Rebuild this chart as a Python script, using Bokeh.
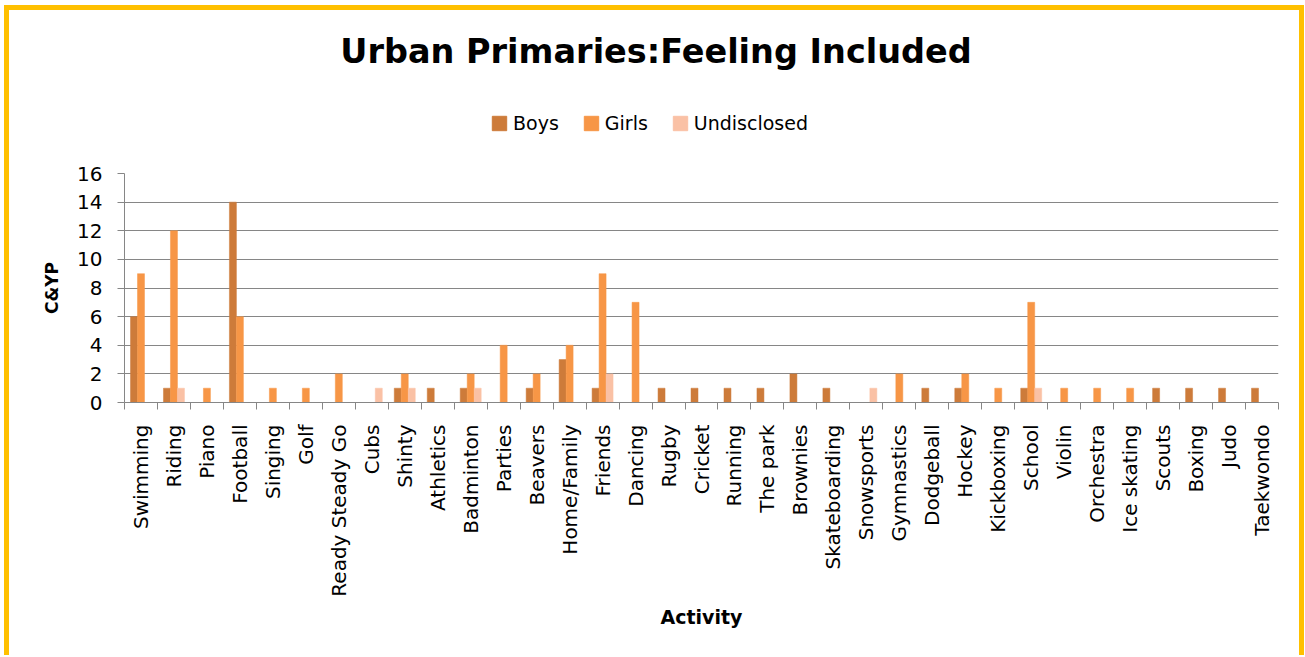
from bokeh.plotting import figure
from bokeh.layouts import column
from bokeh.models import (Range1d, FixedTicker, ColumnDataSource, Legend, LegendItem, Label)
from bokeh.transform import dodge
from bokeh.embed import file_html
from bokeh.resources import INLINE
import math

activities = ["Swimming", "Riding", "Piano", "Football", "Singing", "Golf", "Ready Steady Go",
              "Cubs", "Shinty", "Athletics", "Badminton", "Parties", "Beavers", "Home/Family",
              "Friends", "Dancing", "Rugby", "Cricket", "Running", "The park", "Brownies",
              "Skateboarding", "Snowsports", "Gymnastics", "Dodgeball", "Hockey", "Kickboxing",
              "School", "Violin", "Orchestra", "Ice skating", "Scouts", "Boxing", "Judo", "Taekwondo"]
boys        = [6, 1, 0, 14, 0, 0, 0, 0, 1, 1, 1, 0, 1, 3, 1, 0, 1, 1, 1, 1, 2, 1, 0, 0, 1, 1, 0, 1, 0, 0, 0, 1, 1, 1, 1]
girls       = [9, 12, 1, 6, 1, 1, 2, 0, 2, 0, 2, 4, 2, 4, 9, 7, 0, 0, 0, 0, 0, 0, 0, 2, 0, 2, 1, 7, 1, 1, 1, 0, 0, 0, 0]
undisclosed = [0, 1, 0, 0, 0, 0, 0, 1, 1, 0, 1, 0, 0, 0, 2, 0, 0, 0, 0, 0, 0, 0, 1, 0, 0, 0, 0, 1, 0, 0, 0, 0, 0, 0, 0]
y_ticks = [0, 2, 4, 6, 8, 10, 12, 14, 16]

series_names = ["Boys", "Girls", "Undisclosed"]
colors = ["#CD7B3A", "#F79646", "#FAC1A5"]
chart_title = "Urban Primaries:Feeling Included"

FONT = "DejaVu Sans"
GOLD = "#FFC000"
GRID = "#868686"

idx = list(range(len(activities)))
src = ColumnDataSource(dict(x=idx, name=activities, Boys=boys, Girls=girls, Undisclosed=undisclosed))

# ---------- header: title + legend (its frame is aligned with the chart's frame) ----------
h = figure(width=1300, height=150, output_backend="svg", toolbar_location=None,
           x_range=Range1d(-0.5, len(activities) - 0.5), y_range=Range1d(1000, 1150),
           min_border_left=0, min_border_right=0, min_border_top=0, min_border_bottom=0)
h.axis.visible = False
h.grid.visible = False
h.outline_line_color = None
h.border_fill_color = "white"
h.styles = {"border-style": "solid", "border-color": GOLD, "border-width": "5px 5px 0px 5px",
            "overflow": "hidden"}

h.add_layout(Label(x=531.5, y=109, x_units="screen", y_units="screen", text=chart_title,
                   text_font=FONT, text_font_style="bold", text_font_size="33.5px",
                   text_align="center", text_baseline="middle", text_color="black"))

# legend swatches: same series, drawn below this header's visible range
swatches = [h.vbar(x="x", top=s, width=0.2, source=src, fill_color=c, line_color=c)
            for s, c in zip(series_names, colors)]
legend = Legend(items=[LegendItem(label=n, renderers=[r]) for n, r in zip(series_names, swatches)],
                orientation="horizontal", location=(366, 26), padding=0, margin=0,
                border_line_alpha=0, background_fill_alpha=0,
                glyph_width=18, glyph_height=18, label_standoff=5, spacing=23,
                label_text_font=FONT, label_text_font_size="19px", label_text_color="black")
h.add_layout(legend, "center")

# ---------- main chart ----------
p = figure(width=1300, height=500, output_backend="svg", toolbar_location=None,
           x_range=Range1d(-0.5, len(activities) - 0.5), y_range=Range1d(0, 16),
           min_border_left=115, min_border_right=31, min_border_top=18, min_border_bottom=253)
p.styles = {"border-style": "solid", "border-color": GOLD, "border-width": "0px 5px 0px 5px",
            "overflow": "hidden"}
p.outline_line_color = None
p.background_fill_color = "white"
p.border_fill_color = "white"

bw = 0.212
for off, s, c in zip([-bw, 0, bw], series_names, colors):
    p.vbar(x=dodge("x", off), top=s, width=bw, source=src, fill_color=c, line_color=c, line_width=0.5)

xa = p.xaxis[0]
xa.ticker = FixedTicker(ticks=idx, minor_ticks=[i - 0.5 for i in range(len(activities) + 1)])
xa.major_label_overrides = {i: n for i, n in zip(idx, activities)}
xa.major_label_orientation = math.pi / 2
xa.major_tick_out = 0
xa.major_tick_in = 0
xa.minor_tick_out = 7
xa.minor_tick_in = 0
xa.minor_tick_line_color = GRID
xa.axis_line_color = GRID
xa.major_label_text_font = FONT
xa.major_label_text_font_size = "20px"
xa.major_label_text_color = "black"
xa.major_label_standoff = 15
xa.axis_label = "Activity"
xa.axis_label_text_font = FONT
xa.axis_label_text_font_style = "bold"
xa.axis_label_text_font_size = "19px"
xa.axis_label_text_color = "black"
xa.axis_label_standoff = 6

ya = p.yaxis[0]
ya.ticker = FixedTicker(ticks=y_ticks, minor_ticks=[])
ya.major_tick_out = 7
ya.major_tick_in = 0
ya.major_tick_line_color = GRID
ya.axis_line_color = GRID
ya.major_label_text_font = FONT
ya.major_label_text_font_size = "20px"
ya.major_label_text_color = "black"
ya.major_label_standoff = 15
ya.axis_label = "C&YP"
ya.axis_label_text_font = FONT
ya.axis_label_text_font_style = "bold"
ya.axis_label_text_font_size = "17px"
ya.axis_label_text_color = "black"
ya.axis_label_standoff = 12

p.xgrid.grid_line_color = None
p.ygrid.grid_line_color = GRID
p.ygrid.grid_line_width = 1

layout = column(h, p, spacing=0, styles={"margin": "5px 0px 0px 4px"})

open("out.html", "w").write(file_html(layout, INLINE))
